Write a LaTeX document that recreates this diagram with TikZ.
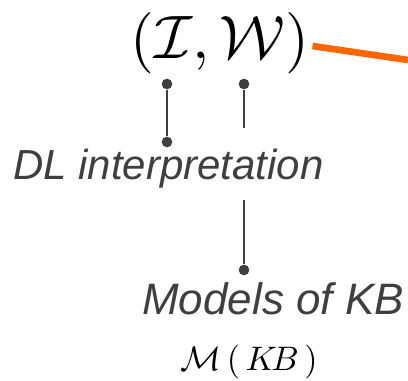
\documentclass[tikz,border=0pt]{standalone}
\usepackage{fontspec}
\setmainfont{Liberation Sans}
\definecolor{linegray}{HTML}{3F3F3F}
\definecolor{hiorange}{HTML}{FF6600}
\tikzset{
  pin/.style={circle,fill=linegray,inner sep=0pt,minimum size=8pt},
  lbl/.style={text=linegray,inner sep=0pt,font=\fontsize{31.5}{36}\selectfont\itshape}
}
\begin{document}
\begin{tikzpicture}[x=0.75pt,y=-0.75pt]
\useasboundingbox (0,0) rectangle (408,381);
\node[inner sep=0pt,scale=4.6] (IW) at (220,43) {$(\mathcal{I},\mathcal{W})$};
\node[lbl,anchor=base west] (DL) at (13,180) {DL interpretation};
\node[lbl,anchor=base west,font=\fontsize{33}{38}\selectfont\itshape] (Mod) at (142,315) {Models of KB};
\node[inner sep=0pt,scale=2.55] (MKB) at (249,362) {$\mathcal{M}\,(\,K\!B\,)$};
\coordinate (edge) at (408,60);
\node[pin] (pI) at (167,84) {};
\node[pin] (pDL) at (167,142) {};
\node[pin] (pW) at (244,84) {};
\coordinate (wEnd) at (244,128);
\coordinate (mTop) at (244,200);
\node[pin] (pMod) at (244,270) {};
\draw[hiorange,line width=5pt] ([shift={(2,3)}]IW.east) -- (edge);
\draw[linegray,line width=2.2pt] (pI) -- (pDL);
\draw[linegray,line width=1.7pt] (pW) -- (wEnd);
\draw[linegray,line width=1.7pt] (mTop) -- (pMod);
\end{tikzpicture}
\end{document}
